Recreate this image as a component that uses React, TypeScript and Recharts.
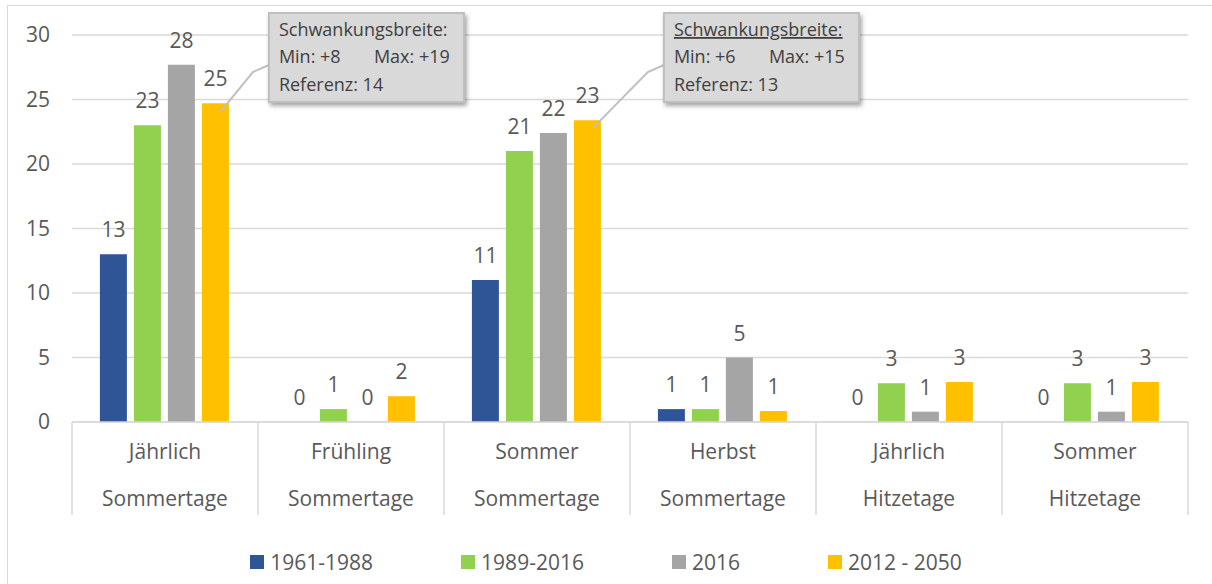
import React from 'react';
import { BarChart, Bar, XAxis, YAxis, CartesianGrid, Legend, LabelList, Cell } from 'recharts';

const FONT = '"Open Sans", "Liberation Sans", sans-serif';
const TEXT = '#595959';
const GRID = '#d9d9d9';

// category axis (two levels)
const seasonLabels = ['Jährlich', 'Frühling', 'Sommer', 'Herbst', 'Jährlich', 'Sommer'];
const measureLabels = ['Sommertage', 'Sommertage', 'Sommertage', 'Sommertage', 'Hitzetage', 'Hitzetage'];

// series
const periods = ['1961-1988', '1989-2016', '2016', '2012 - 2050'];
const periodColors = ['#2f5597', '#92d050', '#a5a5a5', '#ffc000'];
const values1961 = [13, 0, 11, 1, 0, 0];
const values1989 = [23, 1, 21, 1, 3, 3];
const values2016 = [27.7, 0, 22.4, 5, 0.8, 0.8];
const values2012 = [24.7, 2, 23.4, 0.85, 3.1, 3.1];

const yTicks = [0, 5, 10, 15, 20, 25, 30];

// callouts on the 2012 - 2050 bars
const calloutCategory = [0, 2];
const calloutMin = ['+8', '+6'];
const calloutMax = ['+19', '+15'];
const calloutRef = ['14', '13'];
const calloutUnderline = [false, true];
const calloutShift = [40, 63];

const seriesValues = [values1961, values1989, values2016, values2012];

const data = seasonLabels.map((s, i) => ({
  key: `${s}|${measureLabels[i]}`,
  p0: values1961[i],
  p1: values1989[i],
  p2: values2016[i],
  p3: values2012[i],
}));

const CategoryTick = (props: any) => {
  const { x, y, payload, index } = props;
  const half = payload && payload.offset ? payload.offset : 93;
  const [top, bottom] = String(payload.value).split('|');
  const last = index === data.length - 1;
  const txt = { fill: TEXT, fontSize: 21, fontFamily: FONT, textAnchor: 'middle' as const };
  return (
    <g>
      <line x1={x - half} x2={x - half} y1={y} y2={y + 93} stroke={GRID} strokeWidth={1.5} />
      {last && <line x1={x + half} x2={x + half} y1={y} y2={y + 93} stroke={GRID} strokeWidth={1.5} />}
      <text x={x} y={y + 37} {...txt}>{top}</text>
      <text x={x} y={y + 84} {...txt}>{bottom}</text>
    </g>
  );
};

// value label drawn for every bar, zero ones included
const ValueLabel = (props: any) => {
  const vb = props.viewBox || props;
  const v = Math.round(Number(props.value));
  const top = v === 0 ? vb.y + vb.height : vb.y;
  return (
    <text x={vb.x + vb.width / 2} y={top - 17} textAnchor="middle" fill={TEXT} fontSize={21} fontFamily={FONT}>
      {String(v)}
    </text>
  );
};

const Callout = (props: any) => {
  const vb = props.viewBox || props;
  const c = calloutCategory.indexOf(props.index);
  if (c < 0) return null;
  const bx = vb.x + vb.width + calloutShift[c];
  const by = 13;
  const tipX = vb.x + vb.width * 0.7;
  const tipY = vb.y + 8;
  const txt = { fill: '#404040', fontSize: 18, fontFamily: FONT };
  return (
    <g>
      <polyline
        points={`${bx},${by + 52} ${bx - 16},${by + 59} ${tipX},${tipY}`}
        fill="none"
        stroke="#bfbfbf"
        strokeWidth={2}
      />
      <rect
        x={bx}
        y={by}
        width={195}
        height={89}
        fill="#d9d9d9"
        stroke="#bfbfbf"
        strokeWidth={2}
        style={{ filter: 'drop-shadow(2px 3px 2px rgba(0,0,0,0.35))' }}
      />
      <text x={bx + 10} y={by + 23} {...txt} textDecoration={calloutUnderline[c] ? 'underline' : undefined}>
        Schwankungsbreite:
      </text>
      <text x={bx + 10} y={by + 50} {...txt}>{`Min: ${calloutMin[c]}`}</text>
      <text x={bx + 105} y={by + 50} {...txt}>{`Max: ${calloutMax[c]}`}</text>
      <text x={bx + 10} y={by + 78} {...txt}>{`Referenz: ${calloutRef[c]}`}</text>
    </g>
  );
};

const LegendContent = () => (
  <div
    style={{
      display: 'flex',
      justifyContent: 'center',
      alignItems: 'center',
      height: 62,
      boxSizing: 'border-box',
      paddingTop: 18,
      fontFamily: FONT,
      fontSize: 21,
      color: TEXT,
    }}
  >
    {periods.map((p, i) => (
      <div key={p} style={{ display: 'flex', alignItems: 'center', marginLeft: i ? 88 : 0 }}>
        <span style={{ display: 'inline-block', width: 14, height: 14, background: periodColors[i], marginRight: 6 }} />
        {p}
      </div>
    ))}
  </div>
);

export default function App() {
  return (
    <div style={{ position: 'absolute', left: 0, top: 0, width: 1212, height: 584, overflow: 'hidden', background: '#fff' }}>
      <div
        style={{
          position: 'absolute',
          left: 7,
          top: 5,
          width: 1205,
          height: 579,
          borderLeft: `1.5px solid ${GRID}`,
          borderTop: `1.5px solid ${GRID}`,
        }}
      />
      <div style={{ position: 'absolute', left: 0, top: 0 }}>
        <BarChart
          width={1212}
          height={584}
          data={data}
          margin={{ top: 35, right: 24, left: 12, bottom: 0 }}
          barCategoryGap="15%"
          barGap={7}
        >
          <CartesianGrid vertical={false} stroke={GRID} strokeWidth={1.5} />
          <XAxis
            dataKey="key"
            interval={0}
            height={100}
            tickLine={false}
            tickSize={0}
            tickMargin={0}
            axisLine={{ stroke: GRID, strokeWidth: 1.5 }}
            tick={<CategoryTick />}
          />
          <YAxis
            domain={[0, 30]}
            ticks={yTicks}
            axisLine={false}
            tickLine={false}
            tickSize={0}
            tickMargin={22}
            width={60}
            tick={{ fill: TEXT, fontSize: 21, fontFamily: FONT }}
          />
          <Legend verticalAlign="bottom" content={<LegendContent />} wrapperStyle={{ left: 0, width: 1212, bottom: 0 }} />
          {seriesValues.map((vals, i) => (
            <Bar
              key={periods[i]}
              dataKey={`p${i}`}
              name={periods[i]}
              fill={periodColors[i]}
              minPointSize={(v: any) => (Number(v) === 0 ? 1 : 0)}
              isAnimationActive={false}
            >
              {vals.map((v, j) => (
                <Cell key={j} fill={periodColors[i]} fillOpacity={v === 0 ? 0 : 1} />
              ))}
              <LabelList dataKey={`p${i}`} content={<ValueLabel />} />
              {i === 3 && <LabelList dataKey={`p${i}`} content={<Callout />} />}
            </Bar>
          ))}
        </BarChart>
      </div>
    </div>
  );
}
